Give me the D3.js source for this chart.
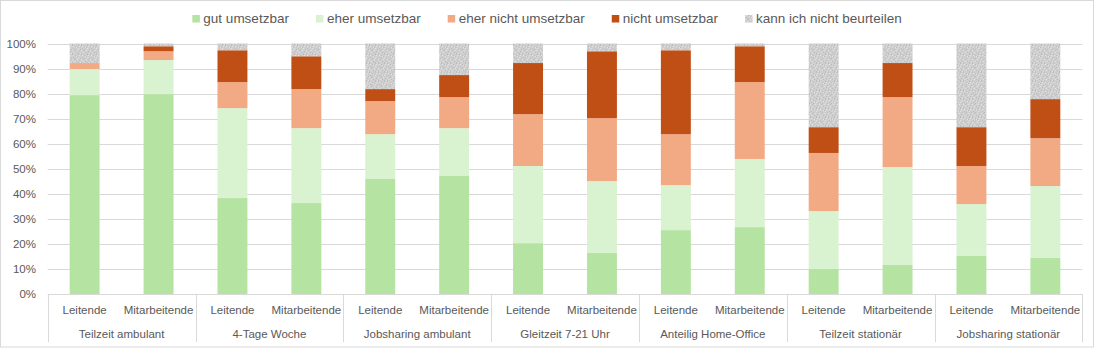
<!DOCTYPE html>
<html>
  <head>
    <meta charset="utf-8">
    <title>Umsetzbarkeit Arbeitszeitmodelle</title>
    <script src="https://d3js.org/d3.v7.min.js"></script>
    <style>
      body { margin: 0; background: #fff; }
      svg text { font-family: "Liberation Sans", Arial, sans-serif; fill: #595959; }
    </style>
  </head>
  <body>
    <div id="chart"></div>
    <script>
      // categories
      var groups = ["Teilzeit ambulant", "4-Tage Woche", "Jobsharing ambulant", "Gleitzeit 7-21 Uhr",
        "Anteilig Home-Office", "Teilzeit stationär", "Jobsharing stationär"];
      var roles = ["Leitende", "Mitarbeitende"];
      var seriesNames = ["gut umsetzbar", "eher umsetzbar", "eher nicht umsetzbar", "nicht umsetzbar", "kann ich nicht beurteilen"];
      // shares in %, one value per bar (group x role)
      var gut = [79.4, 79.8, 38.3, 36.3, 45.9, 47.1, 20.3, 16.4, 25.5, 26.7, 10.0, 11.6, 15.2, 14.4];
      var eher = [10.4, 13.6, 35.9, 29.9, 17.9, 19.1, 30.8, 28.7, 18.0, 27.2, 23.1, 39.1, 20.7, 28.7];
      var eherNicht = [2.4, 3.5, 10.4, 15.6, 13.2, 12.4, 20.7, 25.1, 20.3, 30.7, 23.2, 27.9, 15.2, 19.1];
      var nicht = [0.0, 2.0, 12.7, 13.1, 4.8, 8.8, 20.4, 26.7, 33.5, 14.3, 10.3, 13.6, 15.5, 15.6];
      var kann = [7.8, 1.1, 2.7, 5.1, 18.2, 12.6, 7.8, 3.1, 2.7, 1.1, 33.4, 7.8, 33.4, 22.2];
      var yTicks = [0, 10, 20, 30, 40, 50, 60, 70, 80, 90, 100];

      var width = 1094, height = 348;
      var margin = { top: 43.5, right: 11.7, bottom: 54, left: 47.7 };
      var colors = ["#b4e3a2", "#d9f2d0", "#f1aa84", "#c04f15", "url(#grayDots)"];

      // build rows for stacking
      var bars = [];
      groups.forEach(function(g, gi) {
        roles.forEach(function(r, ri) {
          var i = gi * 2 + ri;
          bars.push({ key: g + "|" + r, group: g, role: r,
            s0: gut[i], s1: eher[i], s2: eherNicht[i], s3: nicht[i], s4: kann[i] });
        });
      });
      var stack = d3.stack().keys(["s0", "s1", "s2", "s3", "s4"])(bars);

      var svg = d3.select("#chart").append("svg")
        .attr("width", width).attr("height", height);

      // textured gray fill for "kann ich nicht beurteilen"
      var pat = svg.append("defs").append("pattern")
        .attr("id", "grayDots").attr("patternUnits", "userSpaceOnUse")
        .attr("width", 9).attr("height", 9);
      pat.append("rect").attr("width", 9).attr("height", 9).attr("fill", "#cfcfcf");
      var dark = [[0,0],[3,1],[6,0],[1,3],[5,2],[8,4],[2,5],[7,6],[4,7],[0,8],[6,8],[3,4]];
      var light = [[1,1],[4,2],[7,1],[2,7],[5,5],[8,8],[0,5],[6,3]];
      pat.selectAll(".d").data(dark).enter().append("rect")
        .attr("x", function(d) { return d[0]; }).attr("y", function(d) { return d[1]; })
        .attr("width", 1).attr("height", 1).attr("fill", "#bdbdbd");
      pat.selectAll(".l").data(light).enter().append("rect")
        .attr("x", function(d) { return d[0]; }).attr("y", function(d) { return d[1]; })
        .attr("width", 1).attr("height", 1).attr("fill", "#e2e2e2");

      // outer chart border
      svg.append("rect").attr("x", 0.5).attr("y", 0.5)
        .attr("width", width - 1).attr("height", height - 1.5)
        .attr("fill", "none").attr("stroke", "#d9d9d9");

      var x = d3.scaleBand()
        .domain(bars.map(function(d) { return d.key; }))
        .range([margin.left, width - margin.right])
        .paddingInner(0.595).paddingOuter(0.2975);
      var y = d3.scaleLinear().domain([0, 100]).range([height - margin.bottom, margin.top]);

      // gridlines
      svg.append("g").selectAll("line").data(yTicks).enter().append("line")
        .attr("x1", margin.left).attr("x2", width - margin.right)
        .attr("y1", function(d) { return Math.round(y(d)) + 0.5; })
        .attr("y2", function(d) { return Math.round(y(d)) + 0.5; })
        .attr("stroke", "#d9d9d9");

      // y tick labels
      svg.append("g").selectAll("text").data(yTicks).enter().append("text")
        .attr("x", 36).attr("y", function(d) { return y(d) + 4; })
        .attr("text-anchor", "end").style("font-size", "11.5px")
        .text(function(d) { return d + "%"; });

      // stacked bars
      svg.append("g").selectAll("g").data(stack).enter().append("g")
        .attr("fill", function(d, i) { return colors[i]; })
        .selectAll("rect").data(function(d) { return d; }).enter().append("rect")
        .attr("x", function(d) { return x(d.data.key); })
        .attr("width", x.bandwidth())
        .attr("y", function(d) { return y(d[1]); })
        .attr("height", function(d) { return y(d[0]) - y(d[1]); });

      // category axis: role labels, group labels, separators
      var step = x.step();
      var axisY = y(0);
      svg.append("g").selectAll("text").data(bars).enter().append("text")
        .attr("x", function(d) { return x(d.key) + x.bandwidth() / 2; })
        .attr("y", axisY + 20)
        .attr("text-anchor", "middle").style("font-size", "11.5px")
        .text(function(d) { return d.role; });
      svg.append("g").selectAll("text").data(groups).enter().append("text")
        .attr("x", function(d, i) { return margin.left + step * (i * 2 + 1); })
        .attr("y", axisY + 44)
        .attr("text-anchor", "middle").style("font-size", "11.5px")
        .text(function(d) { return d; });
      svg.append("g").selectAll("line").data(d3.range(groups.length + 1)).enter().append("line")
        .attr("x1", function(i) { return Math.round(margin.left + step * i * 2) + 0.5; })
        .attr("x2", function(i) { return Math.round(margin.left + step * i * 2) + 0.5; })
        .attr("y1", axisY).attr("y2", axisY + 48)
        .attr("stroke", "#d9d9d9");

      // legend, centred across the chart
      var legend = svg.append("g");
      var items = legend.selectAll("g").data(seriesNames).enter().append("g");
      items.append("rect").attr("width", 7.5).attr("height", 7.5).attr("y", -8)
        .attr("fill", function(d, i) { return colors[i]; });
      items.append("text").attr("x", 11).attr("y", 0).style("font-size", "13.5px")
        .text(function(d) { return d; });
      var pos = 0;
      items.each(function() {
        var w = d3.select(this).select("text").node().getComputedTextLength();
        d3.select(this).attr("transform", "translate(" + pos + ",0)");
        pos += 11 + w + 27;
      });
      var total = pos - 27;
      legend.attr("transform", "translate(" + (width / 2 - total / 2) + ",23)");
    </script>
  </body>
</html>
